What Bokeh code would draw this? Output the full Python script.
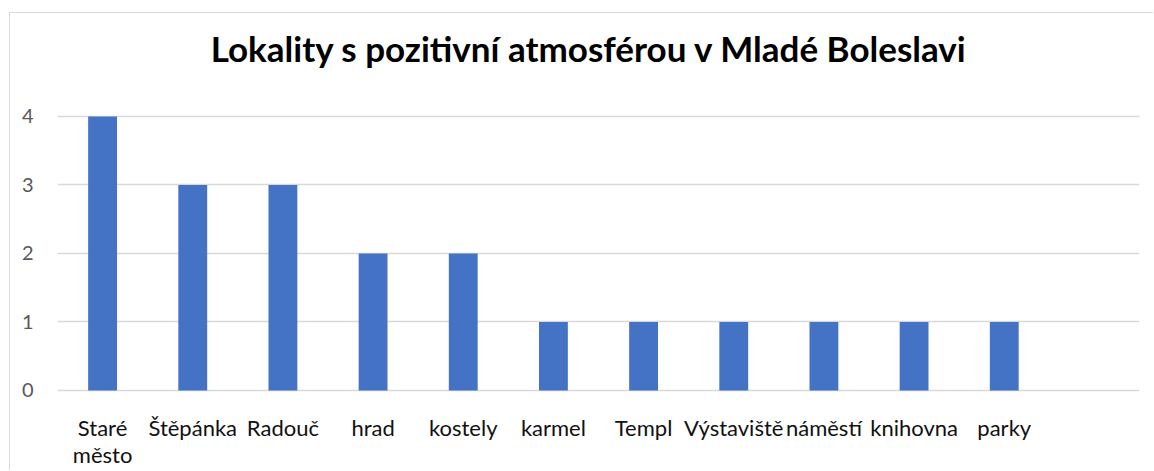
from bokeh.plotting import figure
from bokeh.models import FactorRange, Range1d, FixedTicker, Label
from bokeh.core.properties import value
from bokeh.embed import file_html
from bokeh.resources import INLINE

title_text = "Lokality s pozitivní atmosférou v Mladé Boleslavi"
categories = ["Staré město", "Štěpánka", "Radouč", "hrad", "kostely", "karmel",
              "Templ", "Výstaviště", "náměstí", "knihovna", "parky"]
tick_labels = ["Staré\nměsto", "Štěpánka", "Radouč", "hrad", "kostely", "karmel",
               "Templ", "Výstaviště", "náměstí", "knihovna", "parky"]
values = [4, 3, 3, 2, 2, 1, 1, 1, 1, 1, 1]
y_ticks = [0, 1, 2, 3, 4]

factors = categories + [" "]

p = figure(width=1144, height=458, output_backend="svg", toolbar_location=None,
           x_range=FactorRange(factors=factors, range_padding=0),
           y_range=Range1d(-1.168, 5.489),
           min_border_left=47, min_border_right=15, min_border_top=1, min_border_bottom=1)
p.margin = (12, 0, 0, 9)
p.styles = {"border-left": "1px solid #d9d9d9", "border-top": "1px solid #d9d9d9"}
p.outline_line_color = None
p.background_fill_color = "white"
p.border_fill_color = "white"

p.vbar(x=categories, top=values, width=0.32, color="#4472C4", line_color=None)

p.text(x=categories, y=[-0.346] * len(categories), text=tick_labels,
       text_align="center", text_baseline="top", text_font=value("Lato"),
       text_font_size="22px", text_color="#111111", text_line_height=0.98)

p.xgrid.grid_line_color = None
p.ygrid.grid_line_color = "#d9d9d9"
p.ygrid.grid_line_width = 1.3
p.yaxis.ticker = FixedTicker(ticks=y_ticks)
p.xaxis.visible = False

ax = p.yaxis[0]
ax.axis_line_color = None
ax.major_tick_line_color = None
ax.minor_tick_line_color = None
ax.major_label_text_font = "Lato"
ax.major_label_text_font_size = "20px"
ax.major_label_text_color = "#595959"
ax.major_label_standoff = 18

p.add_layout(Label(x=5.9, y=5.0, text=title_text, text_align="center",
                   text_baseline="alphabetic", text_font="Lato", text_font_style="bold",
                   text_font_size="35px", text_color="black"))

open("out.html", "w").write(file_html(p, INLINE))
